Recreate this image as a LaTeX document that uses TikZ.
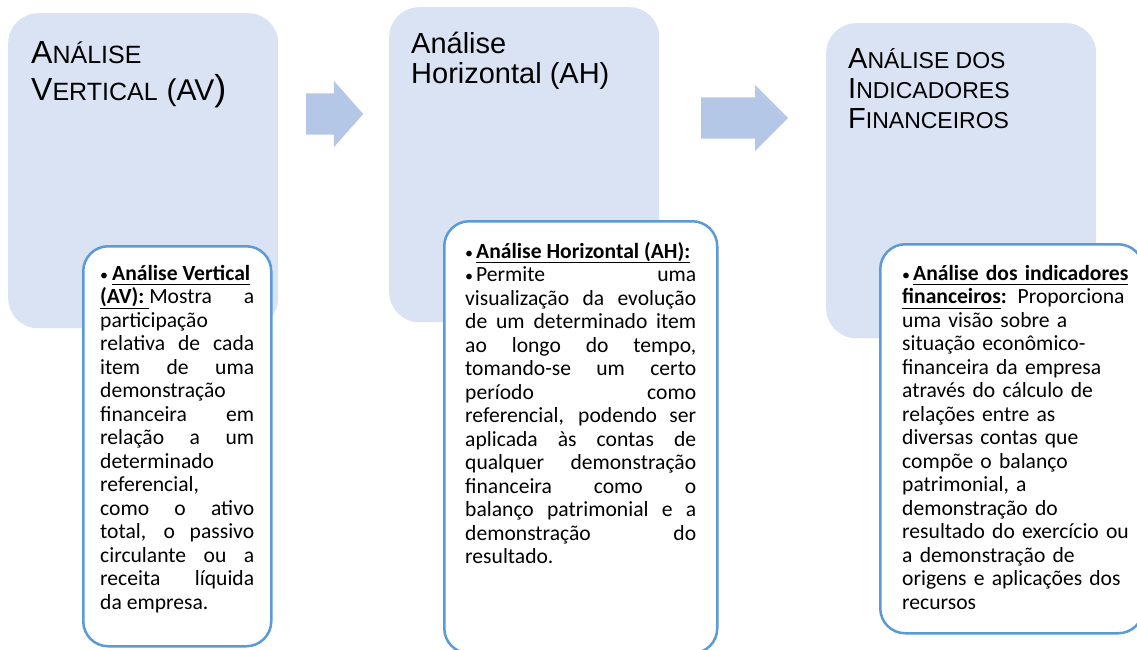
\documentclass[tikz,border=0pt]{standalone}
\usepackage{fontspec}
\setmainfont{Carlito}
\newfontfamily\hdrfont{Liberation Sans}
\usetikzlibrary{shapes.arrows, positioning}

\definecolor{stagefill}{RGB}{218,227,243}
\definecolor{arrowfill}{RGB}{180,199,231}
\definecolor{detailline}{RGB}{91,155,213}

\tikzstyle{stage} = [rectangle, rounded corners=30pt, fill=stagefill, minimum width=270pt, minimum height=315pt, anchor=north west]
\tikzstyle{stagetitle} = [anchor=base west, inner sep=0pt, align=left]
\tikzstyle{detail} = [rectangle, rounded corners=25pt, draw=detailline, line width=2.5pt, fill=white, anchor=north west]
\tikzstyle{detailtext} = [anchor=base west, inner sep=0pt, font=\fontsize{21.6}{23.5}\selectfont, execute at begin node={\tolerance=10000\hyphenpenalty=10000\exhyphenpenalty=10000\hbadness=10000}]
\tikzstyle{seta} = [single arrow, fill=arrowfill, inner xsep=0pt, inner ysep=20.5pt, single arrow head extend=12.5pt, anchor=tail]

\newcommand{\bulletpar}[1][12pt]{\noindent\hangindent=#1\hangafter=1\makebox[#1][l]{\fontsize{16}{0}\selectfont\textbullet}}
\newcommand{\sublinha}[1]{\underline{\smash{#1}\vphantom{(}}}

\begin{document}
\begin{tikzpicture}[x=1pt, y=-1pt]
    \useasboundingbox (0,0) rectangle (1137,649);
    \fill[white] (0,0) rectangle (1137,649);
    % etapas
    \node (stageA) [stage] at (8,13) {};
    \node (stageB) [stage] at (389,7) {};
    \node (stageC) [stage] at (826,23) {};
    \node (titleA) [stagetitle, font=\hdrfont\fontsize{32}{37}\selectfont] at (31,100)
        {A{\fontsize{25}{37}\selectfont NÁLISE}\\V{\fontsize{25}{37}\selectfont ERTICAL} {\fontsize{30}{37}\selectfont (AV}{\fontsize{36}{37}\selectfont )}};
    \node (titleB) [stagetitle, font=\hdrfont\fontsize{29}{30}\selectfont] at (411,83)
        {Análise\\Horizontal (AH)};
    \node (titleC) [stagetitle, font=\hdrfont\fontsize{29}{30}\selectfont] at (848,128)
        {A{\fontsize{23}{30}\selectfont NÁLISE DOS}\\I{\fontsize{23}{30}\selectfont NDICADORES}\\F{\fontsize{23}{30}\selectfont INANCEIROS}};
    % setas
    \node (setaA) [seta, minimum height=57pt, single arrow tip angle=97] at (306,114) {};
    \node (setaB) [seta, minimum height=87pt, single arrow tip angle=90] at (701,118) {};
    % detalhes
    \node (detailA) [detail, minimum width=188pt, minimum height=400pt] at (82,245) {};
    \node (detailB) [detail, minimum width=273pt, minimum height=432pt] at (443,220) {};
    \node (detailC) [detail, minimum width=263pt, minimum height=389pt] at (879,243) {};
    \node (textA) [detailtext, text width=154pt, align=justify] at (100,280) {%
        \bulletpar\textbf{\sublinha{Análise Vertical}}\linebreak
        \textbf{\sublinha{(AV):~}}Mostra a\linebreak
        participação\linebreak
        relativa de cada\linebreak
        item de uma\linebreak
        demonstração\linebreak
        financeira em\linebreak
        relação a um\linebreak
        determinado\linebreak
        referencial,\linebreak
        como o ativo\linebreak
        total, o passivo\linebreak
        circulante ou a\linebreak
        receita líquida\linebreak
        da empresa.};
    \node (textB) [detailtext, text width=231pt, align=justify] at (465,258) {%
        \bulletpar[11pt]\textbf{\sublinha{Análise Horizontal (AH):}}\par
        \bulletpar[11pt]Permite uma\linebreak
        visualização da evolução\linebreak
        de um determinado item\linebreak
        ao longo do tempo,\linebreak
        tomando-se um certo\linebreak
        período como\linebreak
        referencial, podendo ser\linebreak
        aplicada às contas de\linebreak
        qualquer demonstração\linebreak
        financeira como o\linebreak
        balanço patrimonial e a\linebreak
        demonstração do\linebreak
        resultado.};
    \node (textC) [detailtext, text width=240pt, align=left] at (902,280) {%
        \bulletpar[11pt]\textbf{\sublinha{Análise dos indicadores}}\newline
        \textbf{\sublinha{financeiros}:} Proporciona\newline
        uma visão sobre a\newline
        situação econômico-\newline
        financeira da empresa\newline
        através do cálculo de\newline
        relações entre as\newline
        diversas contas que\newline
        compõe o balanço\newline
        patrimonial, a\newline
        demonstração do\newline
        resultado do exercício ou\newline
        a demonstração de\newline
        origens e aplicações dos\newline
        recursos};
\end{tikzpicture}
\end{document}
